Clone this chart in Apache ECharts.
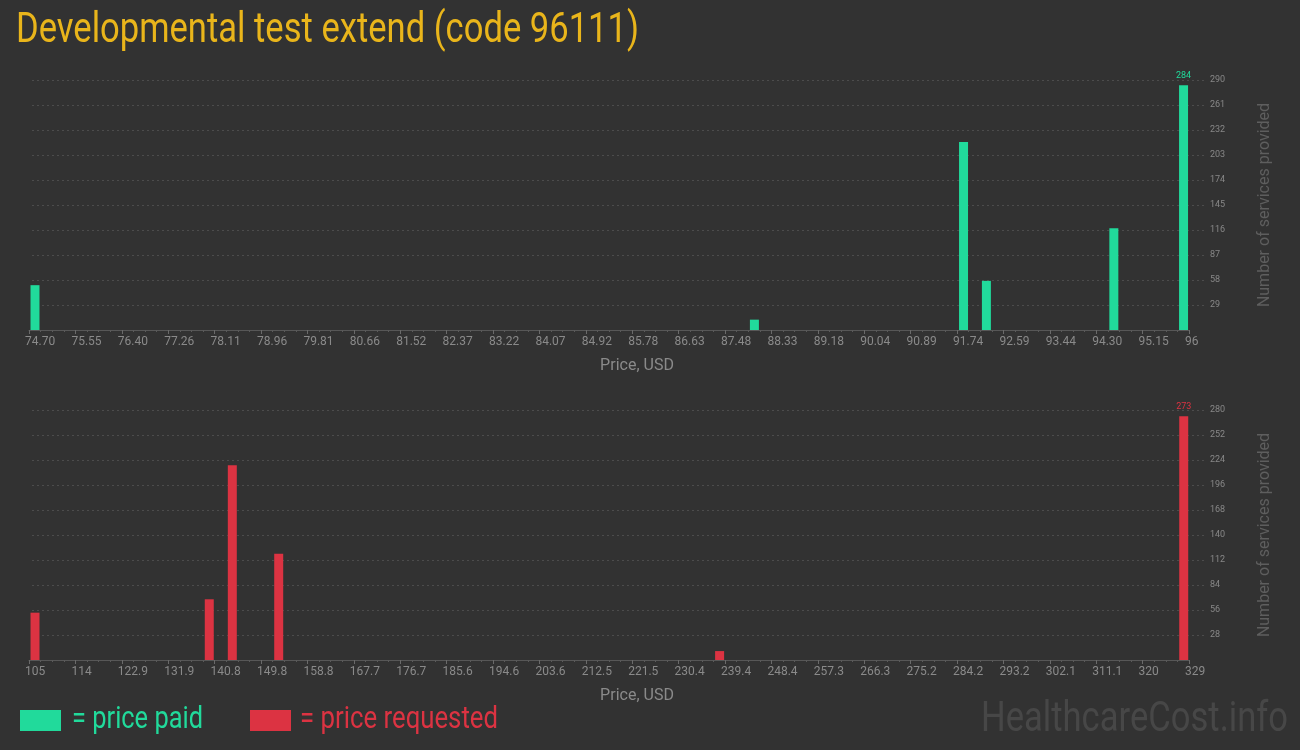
<!DOCTYPE html>
<html><head><meta charset="utf-8">
<script src="https://cdn.jsdelivr.net/npm/echarts@6/dist/echarts.min.js"></script>
<style>html,body{margin:0;padding:0;background:#323232;}#c{width:1300px;height:750px;}</style>
</head><body><div id="c"></div>
<script>
const titleText = 'Developmental test extend (code 96111)';
const paidPrices = [74.81, 88.02, 91.86, 92.28, 94.62, 95.90];
const paidCounts = [52, 12, 218, 57, 118, 284];
const requestedPrices = [106.16, 139.81, 144.26, 153.22, 238.36, 327.98];
const requestedCounts = [53, 68, 218, 119, 10, 273];
const paidTicks = ['74.70','75.55','76.40','77.26','78.11','78.96','79.81','80.66','81.52','82.37','83.22','84.07','84.92','85.78','86.63','87.48','88.33','89.18','90.04','90.89','91.74','92.59','93.44','94.30','95.15','96'];
const requestedTicks = ['105','114','122.9','131.9','140.8','149.8','158.8','167.7','176.7','185.6','194.6','203.6','212.5','221.5','230.4','239.4','248.4','257.3','266.3','275.2','284.2','293.2','302.1','311.1','320','329'];
const paidCountTicks = [0,29,58,87,116,145,174,203,232,261,290];
const requestedCountTicks = [0,28,56,84,112,140,168,196,224,252,280];
const xName = 'Price, USD';
const yName = 'Number of services provided';
const legendPaid = '= price paid';
const legendRequested = '= price requested';
const watermark = 'HealthcareCost.info';

const GREEN = '#21da9b';
const RED = '#dc3342';
const FONT = 'Roboto, sans-serif';

// condense a text horizontally to a target width (emulates a condensed face)
const measureCtx = document.createElement('canvas').getContext('2d');
function squeeze(text, font, targetWidth) {
  measureCtx.font = font;
  return targetWidth / measureCtx.measureText(text).width;
}

function xAxisFor(ticks, gridIndex) {
  const min = parseFloat(ticks[0]);
  const max = parseFloat(ticks[ticks.length - 1]);
  const interval = (max - min) / (ticks.length - 1);
  return {
    type: 'value', gridIndex, min, max, interval,
    name: xName, nameLocation: 'middle', nameGap: 28,
    nameTextStyle: { color: '#8a8a8a', fontFamily: FONT, fontSize: 16, padding: [0, 0, 0, 56] },
    axisLine: { show: true, lineStyle: { color: '#575757', width: 1 } },
    axisTick: { show: true, length: 4, lineStyle: { color: '#6a6a6a' } },
    minorTick: { show: true, splitNumber: 4, length: 2, lineStyle: { color: '#5a5a5a' } },
    splitLine: { show: false },
    axisLabel: {
      color: '#8a8a8a', fontFamily: FONT, fontSize: 12, margin: 6, align: 'left', padding: [0, 0, 0, -4],
      formatter: v => { const i = Math.round((v - min) / interval); return ticks[i] !== undefined ? ticks[i] : ''; }
    }
  };
}
function hiddenX(gridIndex) {
  return { type: 'value', gridIndex, show: false, min: 0, max: 1 };
}
function yAxisGrid(ticks, gridIndex) {
  return {
    type: 'value', gridIndex, position: 'right', min: ticks[0], max: ticks[ticks.length - 1], interval: ticks[1] - ticks[0],
    name: yName, nameLocation: 'middle', nameGap: 51, nameRotate: 90,
    nameTextStyle: { color: '#5e5e5e', fontFamily: FONT, fontSize: 16 },
    axisLine: { show: false }, axisTick: { show: false },
    splitLine: { show: true, showMinLine: false, lineStyle: { color: '#4c4c4c', type: [2, 3], width: 1 } },
    axisLabel: { color: '#888', fontFamily: FONT, fontSize: 9, margin: 4, showMinLabel: false,
      formatter: v => v === 0 ? '' : String(v) }
  };
}
function hiddenY(ticks, gridIndex) {
  return { type: 'value', gridIndex, show: false, min: ticks[0], max: ticks[ticks.length - 1] };
}
function barData(prices, counts, color) {
  const maxC = Math.max(...counts);
  return prices.map((p, i) => ({
    value: [p, counts[i]],
    label: { show: counts[i] === maxC, position: 'top', distance: 5, color, fontFamily: FONT, fontSize: 9 }
  }));
}

const titleFont = '42px Roboto';
const legendFont = '31px Roboto';
const markFont = '42px Roboto';

const chart = echarts.init(document.getElementById('c'), null, { renderer: 'canvas' });
chart.setOption({
  backgroundColor: '#323232',
  animation: false,
  grid: [
    { left: 32, right: 94, top: 80, height: 250 },
    { left: 29, right: 111, top: 80, height: 250 },
    { left: 32, right: 94, top: 410, height: 250 },
    { left: 29, right: 111, top: 410, height: 250 }
  ],
  xAxis: [hiddenX(0), xAxisFor(paidTicks, 1), hiddenX(2), xAxisFor(requestedTicks, 3)],
  yAxis: [yAxisGrid(paidCountTicks, 0), hiddenY(paidCountTicks, 1), yAxisGrid(requestedCountTicks, 2), hiddenY(requestedCountTicks, 3)],
  series: [
    { type: 'bar', xAxisIndex: 1, yAxisIndex: 1, barWidth: 9, itemStyle: { color: GREEN },
      data: barData(paidPrices, paidCounts, GREEN) },
    { type: 'bar', xAxisIndex: 3, yAxisIndex: 3, barWidth: 9, itemStyle: { color: RED },
      data: barData(requestedPrices, requestedCounts, RED) }
  ],
  graphic: [
    { type: 'text', x: 16, y: 31, scaleX: squeeze(titleText, titleFont, 623),
      style: { text: titleText, fill: '#e9b51b', font: titleFont, verticalAlign: 'middle' } },
    { type: 'rect', shape: { x: 20, y: 710, width: 41, height: 21 }, style: { fill: GREEN } },
    { type: 'text', x: 72, y: 720, scaleX: squeeze(legendPaid, legendFont, 131),
      style: { text: legendPaid, fill: GREEN, font: legendFont, verticalAlign: 'middle' } },
    { type: 'rect', shape: { x: 250, y: 710, width: 41, height: 21 }, style: { fill: RED } },
    { type: 'text', x: 300, y: 720, scaleX: squeeze(legendRequested, legendFont, 198),
      style: { text: legendRequested, fill: RED, font: legendFont, verticalAlign: 'middle' } },
    { type: 'text', x: 1288 - 307, y: 720, scaleX: squeeze(watermark, markFont, 307),
      style: { text: watermark, fill: '#474747', font: markFont, verticalAlign: 'middle' } }
  ]
});
</script></body></html>
